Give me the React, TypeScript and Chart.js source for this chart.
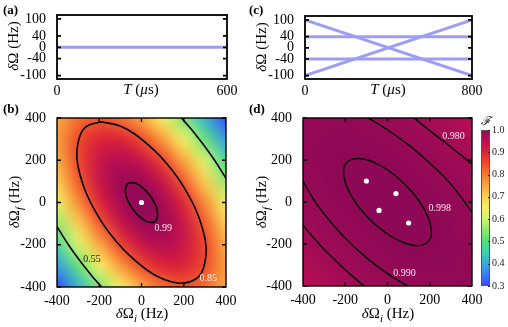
import React, { useEffect, useRef } from "react";
import { Chart, registerables } from "chart.js";
Chart.register(...registerables);

const W = 508;
const H = 327;
const SERIF = '"Liberation Serif", "Times New Roman", "DejaVu Serif", serif';

// ---------------- data ----------------
// (a) constant detuning during the pulse
const aTime = [0, 600];
const aDetuning = [0, 0];
const aTicksX = [0, 600];
// (c) four detuning trajectories (start -> end)
const cTime = [0, 800];
const cStartDetuning = [100, -100, 40, -40];
const cEndDetuning = [-100, 100, 40, -40];
const cTicksX = [0, 800];
const pulseTicksY = [-100, -40, 0, 40, 100];

// fidelity maps: rows from δΩf = 400 (top) to -400 (bottom), columns δΩi = -400..400
const mapTicks = [-400, -200, 0, 200, 400];
const gridDetuning = [-400, -300, -200, -100, 0, 100, 200, 300, 400];
const bFidelity = [
  [0.747, 0.813, 0.837, 0.815, 0.750, 0.652, 0.537, 0.418, 0.307],
  [0.758, 0.849, 0.898, 0.899, 0.850, 0.761, 0.644, 0.515, 0.389],
  [0.742, 0.854, 0.930, 0.956, 0.931, 0.856, 0.745, 0.612, 0.476],
  [0.701, 0.829, 0.928, 0.982, 0.982, 0.929, 0.831, 0.703, 0.562],
  [0.639, 0.777, 0.894, 0.972, 1.000, 0.972, 0.894, 0.777, 0.639],
  [0.562, 0.703, 0.831, 0.929, 0.982, 0.982, 0.928, 0.829, 0.701],
  [0.476, 0.612, 0.745, 0.856, 0.931, 0.956, 0.930, 0.854, 0.742],
  [0.389, 0.515, 0.644, 0.761, 0.850, 0.899, 0.898, 0.849, 0.758],
  [0.307, 0.418, 0.537, 0.652, 0.750, 0.815, 0.837, 0.813, 0.747],
];
const dFidelity = [
  [0.991, 0.993, 0.992, 0.990, 0.986, 0.981, 0.973, 0.964, 0.954],
  [0.993, 0.995, 0.996, 0.995, 0.992, 0.988, 0.982, 0.974, 0.964],
  [0.992, 0.996, 0.998, 0.998, 0.997, 0.993, 0.988, 0.982, 0.973],
  [0.990, 0.995, 0.998, 0.999, 0.999, 0.997, 0.993, 0.988, 0.981],
  [0.986, 0.992, 0.997, 0.999, 1.000, 0.999, 0.997, 0.992, 0.986],
  [0.981, 0.988, 0.993, 0.997, 0.999, 0.999, 0.998, 0.995, 0.990],
  [0.973, 0.982, 0.988, 0.993, 0.997, 0.998, 0.998, 0.996, 0.992],
  [0.964, 0.974, 0.982, 0.988, 0.992, 0.995, 0.996, 0.995, 0.993],
  [0.954, 0.964, 0.973, 0.981, 0.986, 0.990, 0.992, 0.993, 0.991],
];

// contours of (b)
const bC099X = [-47, -25, -7, 17, 30, 42, 52, 60, 67, 72, 75, 76, 72, 64, 47, 25, 7, -17, -30, -42, -52, -60, -67, -72, -75, -76, -72, -64, -47];
const bC099Y = [95, 90, 80, 60, 45, 30, 15, 0, -15, -30, -45, -60, -80, -90, -95, -90, -80, -60, -45, -30, -15, 0, 15, 30, 45, 60, 80, 90, 95];
const bC085X = [-189, -102, -29, 67, 122, 169, 208, 241, 268, 288, 302, 306, 289, 257, 189, 102, 29, -67, -122, -169, -208, -241, -268, -288, -302, -306, -289, -257, -189];
const bC085Y = [382, 362, 322, 241, 181, 121, 60, 0, -60, -121, -181, -241, -322, -362, -382, -362, -322, -241, -181, -121, -60, 0, 60, 121, 181, 241, 322, 362, 382];
const bC055aX = [189, 233, 273, 311, 346, 378, 400];
const bC055aY = [400, 350, 300, 250, 200, 150, 114];
const bC055bX = [-189, -233, -273, -311, -346, -378, -400];
const bC055bY = [-400, -350, -300, -250, -200, -150, -114];
const bOptimumX = [0];
const bOptimumY = [0];

// contours of (d)
const dC0998X = [-142, -94, -37, 4, 66, 114, 153, 182, 202, 208, 202, 178, 142, 94, 37, -4, -66, -114, -153, -182, -202, -208, -202, -178, -142];
const dC0998Y = [208, 200, 175, 150, 100, 50, 0, -50, -100, -150, -175, -200, -208, -200, -175, -150, -100, -50, 0, 50, 100, 150, 175, 200, 208];
const dC0990aX = [-400, -350, -300, -200, -100, 0, 50, 98];
const dC0990aY = [98, 13, -57, -172, -265, -341, -373, -400];
const dC0990bX = [-92, -13, 100, 200, 300, 400];
const dC0990bY = [400, 352, 272, 185, 85, -50];
const dC0980aX = [-400, -350, -300, -200, -111];
const dC0980aY = [-111, -170, -225, -323, -400];
const dC0980bX = [125, 200, 300, 400];
const dC0980bY = [400, 340, 262, 180];

// colour bar
const cbarTicks = [0.3, 0.4, 0.5, 0.6, 0.7, 0.8, 0.9, 1.0];
const cmapLevels = [0.3, 0.35, 0.4, 0.45, 0.5, 0.55, 0.6, 0.65, 0.7, 0.75, 0.8, 0.85, 0.9, 0.95, 1.0];
const cmapColors = ["#3a48fa", "#3a7cf4", "#38a8e0", "#3cd0b0", "#52de7c", "#8ee872", "#cdf26e", "#f6f066", "#fbd055", "#f9a640", "#f57a30", "#ee4a2c", "#dc2238", "#bc0f55", "#8c0856"];

// ---------------- helpers ----------------
function hexToRgb(h: string) {
  return [parseInt(h.slice(1, 3), 16), parseInt(h.slice(3, 5), 16), parseInt(h.slice(5, 7), 16)];
}
function colorFor(v: number) {
  const lv = cmapLevels;
  if (v <= lv[0]) return hexToRgb(cmapColors[0]);
  if (v >= lv[lv.length - 1]) return hexToRgb(cmapColors[lv.length - 1]);
  let i = 0;
  while (v > lv[i + 1]) i++;
  const t = (v - lv[i]) / (lv[i + 1] - lv[i]);
  const a = hexToRgb(cmapColors[i]);
  const b = hexToRgb(cmapColors[i + 1]);
  return [0, 1, 2].map((k) => Math.round(a[k] + (b[k] - a[k]) * t));
}

type Part = { t: string; it?: boolean; sub?: boolean; bold?: boolean };
function drawRich(ctx: CanvasRenderingContext2D, parts: Part[], x: number, y: number, size: number, align: "left" | "center" | "right" = "center", rotate = 0, color = "#000") {
  ctx.save();
  ctx.translate(x, y);
  if (rotate) ctx.rotate(rotate);
  ctx.textBaseline = "middle";
  ctx.textAlign = "left";
  ctx.fillStyle = color;
  const font = (p: Part) => `${p.it ? "italic " : ""}${p.bold ? "bold " : ""}${p.sub ? size * 0.72 : size}px ${SERIF}`;
  const widths = parts.map((p) => {
    ctx.font = font(p);
    return ctx.measureText(p.t).width;
  });
  const total = widths.reduce((s, w) => s + w, 0);
  let cx = align === "center" ? -total / 2 : align === "right" ? -total : 0;
  parts.forEach((p, i) => {
    ctx.font = font(p);
    ctx.fillText(p.t, cx, p.sub ? size * 0.32 : 0);
    cx += widths[i];
  });
  ctx.restore();
}

function pts(xs: number[], ys: number[]) {
  return xs.map((x, i) => ({ x, y: ys[i] }));
}

function lineDs(xs: number[], ys: number[], color: string, width: number, tension = 0) {
  return { data: pts(xs, ys), showLine: true, borderColor: color, borderWidth: width, pointRadius: 0, tension, fill: false };
}
function dotDs(xs: number[], ys: number[]) {
  return { data: pts(xs, ys), showLine: false, pointRadius: 2.6, pointBackgroundColor: "#fff", pointBorderWidth: 0, pointBorderColor: "#fff" };
}

function heatPlugin(grid: number[][]) {
  return {
    id: "heat",
    beforeDatasetsDraw(chart: any) {
      const n = grid.length;
      const off = document.createElement("canvas");
      off.width = n;
      off.height = n;
      const octx = off.getContext("2d")!;
      const img = octx.createImageData(n, n);
      for (let r = 0; r < n; r++)
        for (let c = 0; c < n; c++) {
          const col = colorFor(grid[r][c]);
          const k = (r * n + c) * 4;
          img.data[k] = col[0];
          img.data[k + 1] = col[1];
          img.data[k + 2] = col[2];
          img.data[k + 3] = 255;
        }
      octx.putImageData(img, 0, 0);
      const xs = chart.scales.x;
      const ys = chart.scales.y;
      const step = gridDetuning[1] - gridDetuning[0];
      const lo = gridDetuning[0] - step / 2;
      const hi = gridDetuning[gridDetuning.length - 1] + step / 2;
      const x0 = xs.getPixelForValue(lo);
      const x1 = xs.getPixelForValue(hi);
      const y0 = ys.getPixelForValue(hi);
      const y1 = ys.getPixelForValue(lo);
      const a = chart.chartArea;
      const ctx = chart.ctx;
      ctx.save();
      ctx.beginPath();
      ctx.rect(a.left, a.top, a.right - a.left, a.bottom - a.top);
      ctx.clip();
      ctx.imageSmoothingEnabled = true;
      (ctx as any).imageSmoothingQuality = "high";
      ctx.drawImage(off, x0, y0, x1 - x0, y1 - y0);
      ctx.restore();
    },
  };
}

function decorPlugin(xTicks: number[], yTicks: number[], tickLen: number, lw: number, extra: (chart: any, ctx: CanvasRenderingContext2D) => void) {
  return {
    id: "decor",
    afterDraw(chart: any) {
      const ctx = chart.ctx as CanvasRenderingContext2D;
      const a = chart.chartArea;
      const xs = chart.scales.x;
      const ys = chart.scales.y;
      ctx.save();
      ctx.strokeStyle = "#000";
      ctx.lineWidth = lw;
      ctx.beginPath();
      xTicks.forEach((v) => {
        const px = xs.getPixelForValue(v);
        if (px <= a.left + 1 || px >= a.right - 1) return;
        ctx.moveTo(px, a.bottom);
        ctx.lineTo(px, a.bottom - tickLen);
        ctx.moveTo(px, a.top);
        ctx.lineTo(px, a.top + tickLen);
      });
      yTicks.forEach((v) => {
        const py = ys.getPixelForValue(v);
        ctx.moveTo(a.left, py);
        ctx.lineTo(a.left + tickLen, py);
        ctx.moveTo(a.right, py);
        ctx.lineTo(a.right - tickLen, py);
      });
      ctx.stroke();
      ctx.strokeRect(a.left, a.top, a.right - a.left, a.bottom - a.top);
      ctx.restore();
      extra(chart, ctx);
    },
  };
}

type Area = { l: number; t: number; r: number; b: number };
function frameOptions(area: Area, xr: [number, number], yr: [number, number], xTicks: number[], yTicks: number[], xPad: number) {
  const tickFont = { family: SERIF, size: 14 };
  return {
    responsive: false,
    maintainAspectRatio: false,
    animation: false,
    devicePixelRatio: 1,
    events: [],
    layout: { padding: { left: 0, top: area.t, right: W - area.r, bottom: 0 } },
    plugins: { legend: { display: false }, tooltip: { enabled: false } },
    scales: {
      x: {
        type: "linear",
        position: "bottom",
        min: xr[0],
        max: xr[1],
        grid: { display: false },
        border: { display: false },
        afterBuildTicks: (s: any) => {
          s.ticks = xTicks.map((v) => ({ value: v }));
        },
        afterFit: (s: any) => {
          s.height = H - area.b;
        },
        ticks: { font: tickFont, color: "#000", padding: xPad, maxRotation: 0, autoSkip: false, callback: (v: any) => String(v) },
      },
      y: {
        type: "linear",
        position: "left",
        min: yr[0],
        max: yr[1],
        grid: { display: false },
        border: { display: false },
        afterBuildTicks: (s: any) => {
          s.ticks = yTicks.map((v) => ({ value: v }));
        },
        afterFit: (s: any) => {
          s.width = area.l;
        },
        ticks: { font: tickFont, color: "#000", padding: 3, autoSkip: false, callback: (v: any) => String(v) },
      },
    },
  };
}

const dOmega: Part[] = [{ t: "δ", it: true }, { t: "Ω" }, { t: " (Hz)" }];
const dOmegaF: Part[] = [{ t: "δ", it: true }, { t: "Ω" }, { t: "f", it: true, sub: true }, { t: " (Hz)" }];
const dOmegaI: Part[] = [{ t: "δ", it: true }, { t: "Ω" }, { t: "i", it: true, sub: true }, { t: " (Hz)" }];
const timeTitle: Part[] = [{ t: "T", it: true }, { t: " (" }, { t: "μ", it: true }, { t: "s)" }];

function label(chart: any, ctx: CanvasRenderingContext2D, text: string, x: number, y: number, color: string) {
  const px = chart.scales.x.getPixelForValue(x);
  const py = chart.scales.y.getPixelForValue(y);
  ctx.save();
  ctx.font = `10px ${SERIF}`;
  ctx.fillStyle = color;
  ctx.textAlign = "center";
  ctx.textBaseline = "middle";
  ctx.fillText(text, px, py);
  ctx.restore();
}

const pulseColor = "#9d9df6";
const TITLE = 15;

export default function App() {
  const aRef = useRef<HTMLCanvasElement>(null);
  const bRef = useRef<HTMLCanvasElement>(null);
  const cRef = useRef<HTMLCanvasElement>(null);
  const dRef = useRef<HTMLCanvasElement>(null);
  const eRef = useRef<HTMLCanvasElement>(null);

  useEffect(() => {
    document.body.style.margin = "0";
    const charts: Chart[] = [];

    // (a)
    const aArea = { l: 57, t: 15, r: 227, b: 79 };
    charts.push(
      new Chart(aRef.current!, {
        type: "scatter",
        data: { datasets: [lineDs(aTime, aDetuning, pulseColor, 3)] as any },
        options: frameOptions(aArea, [aTime[0], aTime[1]], [-112, 114], aTicksX, pulseTicksY, -4) as any,
        plugins: [
          decorPlugin([], pulseTicksY, 4, 1.8, (chart, ctx) => {
            drawRich(ctx, [{ t: "(a)", bold: true }], 3, 11, 13, "left");
            drawRich(ctx, dOmega, 14, 46, TITLE, "center", -Math.PI / 2);
            drawRich(ctx, timeTitle, 141, 90, TITLE);
          }),
        ],
      })
    );

    // (c)
    const cArea = { l: 305, t: 16, r: 472, b: 79 };
    const cDatasets = cStartDetuning.map((s, i) => lineDs(cTime, [s, cEndDetuning[i]], pulseColor, 3));
    charts.push(
      new Chart(cRef.current!, {
        type: "scatter",
        data: { datasets: cDatasets as any },
        options: frameOptions(cArea, [cTime[0], cTime[1]], [-112, 114], cTicksX, pulseTicksY, -4) as any,
        plugins: [
          decorPlugin([], pulseTicksY, 4, 1.8, (chart, ctx) => {
            drawRich(ctx, [{ t: "(c)", bold: true }], 249, 11, 13, "left");
            drawRich(ctx, dOmega, 262, 47, TITLE, "center", -Math.PI / 2);
            drawRich(ctx, timeTitle, 388, 90, TITLE);
          }),
        ],
      })
    );

    // (b)
    const bArea = { l: 57, t: 118, r: 226, b: 287 };
    charts.push(
      new Chart(bRef.current!, {
        type: "scatter",
        data: {
          datasets: [
            lineDs(bC085X, bC085Y, "#000", 1.6, 0.4),
            lineDs(bC099X, bC099Y, "#000", 1.6, 0.4),
            lineDs(bC055aX, bC055aY, "#000", 1.6, 0.4),
            lineDs(bC055bX, bC055bY, "#000", 1.6, 0.4),
            dotDs(bOptimumX, bOptimumY),
          ] as any,
        },
        options: frameOptions(bArea, [-400, 400], [-400, 400], mapTicks, mapTicks, -2) as any,
        plugins: [
          heatPlugin(bFidelity),
          decorPlugin(mapTicks, mapTicks, 4, 1.4, (chart, ctx) => {
            label(chart, ctx, "0.99", 103, -121, "#fbe3ee");
            label(chart, ctx, "0.85", 316, -359, "#fff4ee");
            label(chart, ctx, "0.55", -234, -267, "#222");
            drawRich(ctx, [{ t: "(b)", bold: true }], 3, 110, 13, "left");
            drawRich(ctx, dOmegaF, 15, 202, TITLE, "center", -Math.PI / 2);
            drawRich(ctx, dOmegaI, 142, 314, TITLE);
          }),
        ],
      })
    );

    // (d)
    const dArea = { l: 303, t: 118, r: 472, b: 286 };
    charts.push(
      new Chart(dRef.current!, {
        type: "scatter",
        data: {
          datasets: [
            lineDs(dC0998X, dC0998Y, "#000", 1.4, 0.4),
            lineDs(dC0990aX, dC0990aY, "#000", 1.4, 0.4),
            lineDs(dC0990bX, dC0990bY, "#000", 1.4, 0.4),
            lineDs(dC0980aX, dC0980aY, "#000", 1.4, 0.4),
            lineDs(dC0980bX, dC0980bY, "#000", 1.4, 0.4),
            dotDs(cStartDetuning, cEndDetuning),
          ] as any,
        },
        options: frameOptions(dArea, [-400, 400], [-400, 400], mapTicks, mapTicks, -2) as any,
        plugins: [
          heatPlugin(dFidelity),
          decorPlugin(mapTicks, mapTicks, 4, 1.4, (chart, ctx) => {
            label(chart, ctx, "0.980", 313, 312, "#fbe3ee");
            label(chart, ctx, "0.998", 247, -31, "#fbe3ee");
            label(chart, ctx, "0.990", 81, -340, "#fbe3ee");
            drawRich(ctx, [{ t: "(d)", bold: true }], 249, 110, 13, "left");
            drawRich(ctx, dOmegaF, 262, 202, TITLE, "center", -Math.PI / 2);
            drawRich(ctx, dOmegaI, 388, 314, TITLE);
          }),
        ],
      })
    );

    // colour bar
    const eArea = { l: 481, t: 130, r: 490, b: 286 };
    charts.push(
      new Chart(eRef.current!, {
        type: "scatter",
        data: { datasets: [] },
        options: {
          responsive: false,
          maintainAspectRatio: false,
          animation: false,
          devicePixelRatio: 1,
          events: [],
          layout: { padding: { left: eArea.l, top: eArea.t, right: W - eArea.r, bottom: H - eArea.b } },
          plugins: { legend: { display: false }, tooltip: { enabled: false } },
          scales: {
            x: { type: "linear", display: false, min: 0, max: 1 },
            y: { type: "linear", display: false, min: cbarTicks[0], max: cbarTicks[cbarTicks.length - 1] },
          },
        } as any,
        plugins: [
          {
            id: "cbar",
            afterDraw(chart: any) {
              const ctx = chart.ctx as CanvasRenderingContext2D;
              const a = chart.chartArea;
              const ys = chart.scales.y;
              const g = ctx.createLinearGradient(0, a.bottom, 0, a.top);
              const span = cmapLevels[cmapLevels.length - 1] - cmapLevels[0];
              cmapLevels.forEach((lv, i) => g.addColorStop((lv - cmapLevels[0]) / span, cmapColors[i]));
              ctx.save();
              ctx.fillStyle = g;
              ctx.fillRect(a.left, a.top, a.right - a.left, a.bottom - a.top);
              ctx.strokeStyle = "#555";
              ctx.lineWidth = 1;
              ctx.strokeRect(a.left + 0.5, a.top + 0.5, a.right - a.left - 1, a.bottom - a.top - 1);
              ctx.strokeStyle = "#222";
              ctx.beginPath();
              cbarTicks.forEach((v) => {
                const py = Math.round(ys.getPixelForValue(v)) + 0.5;
                ctx.moveTo(a.right - 2, py);
                ctx.lineTo(a.right, py);
              });
              ctx.stroke();
              ctx.font = `10px ${SERIF}`;
              ctx.fillStyle = "#222";
              ctx.textAlign = "left";
              ctx.textBaseline = "middle";
              cbarTicks.forEach((v) => {
                ctx.fillText(v.toFixed(1), a.right + 2, ys.getPixelForValue(v));
              });
              ctx.restore();
              drawRich(ctx, [{ t: "ℱ", it: true }], 486, 122, 12);
            },
          },
        ],
      })
    );

    return () => charts.forEach((c) => c.destroy());
  }, []);

  const cs: React.CSSProperties = { position: "absolute", left: 0, top: 0 };
  return (
    <div style={{ position: "relative", width: W, height: H, background: "#fff", overflow: "hidden" }}>
      <canvas ref={bRef} width={W} height={H} style={cs} />
      <canvas ref={dRef} width={W} height={H} style={cs} />
      <canvas ref={aRef} width={W} height={H} style={cs} />
      <canvas ref={cRef} width={W} height={H} style={cs} />
      <canvas ref={eRef} width={W} height={H} style={cs} />
    </div>
  );
}
